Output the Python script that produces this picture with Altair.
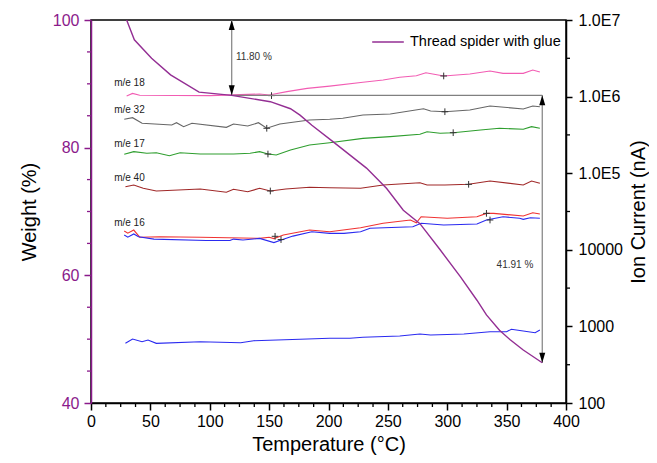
import altair as alt
import pandas as pd

# ---------------- data ----------------
tga_T = [30, 36.5, 51, 67, 91, 118.5, 151, 168, 176, 186, 204, 232, 249, 263, 277, 294, 311, 325, 333, 344, 353, 364, 380]
tga_W = [100, 96.9, 94.0, 91.4, 88.7, 88.2, 87.2, 86.1, 85.1, 83.5, 80.9, 76.8, 73.6, 70.2, 68.1, 64.0, 59.8, 56.1, 53.8, 51.4, 49.9, 48.3, 46.3]

pink_T = [30, 35, 41, 100, 142, 150, 165, 182, 201, 229, 246, 260, 274, 282, 297, 319, 336, 347, 364, 372, 378]
pink_I = [1.02e6, 1.10e6, 1.04e6, 1.03e6, 1.08e6, 1.05e6, 1.16e6, 1.28e6, 1.37e6, 1.54e6, 1.65e6, 1.79e6, 1.87e6, 2.05e6, 1.86e6, 1.97e6, 2.16e6, 2.01e6, 2.01e6, 2.22e6, 2.09e6]

gray_T = [28, 35, 43, 68, 72, 78, 85, 114, 120, 132, 141, 148, 159, 184, 201, 212, 229, 252, 280, 286, 298, 319, 336, 364, 372, 378]
gray_I = [5.06e5, 5.31e5, 4.48e5, 4.26e5, 4.56e5, 4.05e5, 4.48e5, 3.97e5, 4.38e5, 4.13e5, 4.56e5, 3.86e5, 4.38e5, 4.96e5, 5.06e5, 5.21e5, 5.75e5, 5.93e5, 6.95e5, 6.49e5, 6.35e5, 6.68e5, 7.53e5, 6.89e5, 7.53e5, 7.38e5]

green_T = [28, 36, 47, 55, 66, 75, 92, 120, 134, 142, 149, 156, 168, 184, 201, 229, 252, 277, 283, 294, 305, 328, 344, 364, 371, 378]
green_I = [1.77e5, 1.91e5, 1.82e5, 1.85e5, 1.69e5, 1.85e5, 1.78e5, 1.78e5, 1.82e5, 1.91e5, 1.78e5, 1.73e5, 2.01e5, 2.33e5, 2.50e5, 2.85e5, 3.00e5, 3.22e5, 3.48e5, 3.32e5, 3.38e5, 3.66e5, 3.86e5, 3.74e5, 4.05e5, 3.86e5]

brown_T = [29, 36, 44, 55, 92, 114, 120, 132, 142, 151, 164, 184, 201, 227, 246, 277, 283, 298, 318, 336, 364, 371, 378]
brown_I = [6.67e4, 7.02e4, 6.35e4, 5.86e4, 6.22e4, 5.64e4, 6.17e4, 5.73e4, 6.35e4, 5.86e4, 6.22e4, 6.55e4, 6.47e4, 6.35e4, 7.02e4, 7.52e4, 7.02e4, 7.02e4, 7.16e4, 7.91e4, 7.02e4, 7.91e4, 7.38e4]

red_T = [28, 31, 36, 41, 58, 92, 142, 150, 154, 162, 184, 201, 227, 246, 269, 274, 278, 300, 325, 333, 339, 364, 372, 378]
red_I = [1.76e4, 1.65e4, 1.81e4, 1.46e4, 1.48e4, 1.46e4, 1.41e4, 1.46e4, 1.40e4, 1.56e4, 1.81e4, 1.72e4, 1.94e4, 2.22e4, 2.45e4, 2.25e4, 2.70e4, 2.58e4, 2.70e4, 2.99e4, 2.99e4, 2.76e4, 3.05e4, 2.93e4]

blue_T = [28, 31, 36, 40, 53, 97, 117, 120, 128, 142, 154, 162, 170, 186, 201, 213, 227, 235, 271, 278, 297, 325, 333, 347, 361, 364, 370, 378]
blue_I = [1.56e4, 1.46e4, 1.61e4, 1.48e4, 1.38e4, 1.32e4, 1.32e4, 1.38e4, 1.34e4, 1.41e4, 1.24e4, 1.37e4, 1.51e4, 1.72e4, 1.64e4, 1.64e4, 1.72e4, 1.91e4, 2.00e4, 2.22e4, 2.11e4, 2.17e4, 2.45e4, 2.70e4, 2.58e4, 2.50e4, 2.62e4, 2.58e4]

blue2_T = [29, 35, 43, 48, 55, 92, 126, 137, 176, 201, 218, 229, 260, 277, 286, 314, 336, 350, 354, 364, 374, 378]
blue2_I = [601, 685, 631, 664, 601, 631, 613, 650, 679, 699, 699, 721, 750, 796, 773, 796, 853, 853, 917, 871, 828, 897]

marker_T = [152, 297, 148, 298, 149, 305, 151, 318, 155, 160, 333, 336]
marker_I = [1.03e6, 1.86e6, 3.86e5, 6.35e5, 1.78e5, 3.38e5, 5.86e4, 7.16e4, 1.50e4, 1.36e4, 2.99e4, 2.45e4]

label_text = ["m/e 18", "m/e 32", "m/e 17", "m/e 40", "m/e 16"]
label_T = [19.5, 19.5, 19.5, 19.5, 19.5]
label_I = [1.49e6, 6.68e5, 2.40e5, 8.65e4, 2.24e4]

step_T = [118.5, 380]
step_W = [100, 88.2, 46.29]
step_text = ["11.80 %", "41.91 %"]
step_text_T = [122, 357]
step_text_W = [94.2, 61.6]

x_ticks = [0, 50, 100, 150, 200, 250, 300, 350, 400]
x_minor = [12.5, 25, 37.5, 62.5, 75, 87.5, 112.5, 125, 137.5, 162.5, 175, 187.5, 212.5, 225, 237.5,
           262.5, 275, 287.5, 312.5, 325, 337.5, 362.5, 375, 387.5]
w_ticks = [40, 60, 80, 100]
w_minor = [45, 50, 55, 65, 70, 75, 85, 90, 95]
i_ticks = [100, 1000, 1e4, 1e5, 1e6, 1e7]
i_minor = [316, 3162, 31623, 316228, 3162278]

LEGEND = "Thread spider with glue"

# ---------------- style ----------------
W, H = 475, 383
FONT = "Liberation Sans"
PURPLE_AX = "#8B1A8B"
PURPLE_LN = "#932E93"

x_scale = alt.Scale(domain=[0, 400], nice=False, zero=False)
x_axis = alt.Axis(values=x_ticks, title="Temperature (°C)", grid=False,
                  labelFontSize=16, titleFontSize=20, titleFontWeight="normal",
                  labelFont=FONT, titleFont=FONT, labelColor="black", titleColor="black",
                  domainColor="black", tickColor="black", domainWidth=1.5, tickWidth=1.5,
                  tickSize=7, labelPadding=3, labelFlush=False,
                  titleY=47, titleBaseline="alphabetic")

w_scale = alt.Scale(domain=[40, 100], nice=False, zero=False)
w_axis = alt.Axis(orient="left", values=w_ticks, title="Weight (%)", grid=False,
                  labelFontSize=16, titleFontSize=20, titleFontWeight="normal",
                  labelFont=FONT, titleFont=FONT, labelColor=PURPLE_AX, titleColor="black",
                  domainColor=PURPLE_AX, tickColor=PURPLE_AX, domainWidth=1.5, tickWidth=1.5,
                  tickSize=7, labelPadding=5, titlePadding=13, labelFlush=False)

i_scale = alt.Scale(type="log", domain=[100, 1e7], nice=False)
i_axis = alt.Axis(orient="right", values=i_ticks, title="Ion Current (nA)", grid=False,
                  labelExpr="datum.value >= 100000 ? '1.0E' + round(log(datum.value) / LN10) : format(datum.value, 'd')",
                  labelFontSize=16, titleFontSize=20, titleFontWeight="normal",
                  labelFont=FONT, titleFont=FONT, labelColor="black", titleColor="black",
                  domainColor="black", tickColor="black", domainWidth=1.5, tickWidth=1.5,
                  tickSize=6, labelPadding=6, labelFlush=False,
                  titleAngle=270, titleBaseline="top", titleAlign="center",
                  titleX=62, titleY=H / 2)


def X(f):
    return alt.X(f, type="quantitative", scale=x_scale, axis=x_axis)


def YW(f):
    return alt.Y(f, type="quantitative", scale=w_scale, axis=w_axis)


def YI(f):
    return alt.Y(f, type="quantitative", scale=i_scale, axis=i_axis)


# ---------------- weight layer ----------------
tga_df = pd.DataFrame({"T": tga_T, "W": tga_W, "series": LEGEND})
tga = alt.Chart(tga_df).mark_line(strokeWidth=1.4).encode(
    x=X("T"), y=YW("W"),
    color=alt.Color("series:N", scale=alt.Scale(domain=[LEGEND], range=[PURPLE_LN]),
                    legend=alt.Legend(orient="top-right", title=None, symbolType="stroke",
                                      symbolSize=1000, symbolStrokeWidth=1.5, labelFontSize=14.5,
                                      labelFont=FONT, labelColor="black", offset=5, padding=0,
                                      labelOffset=5)))

seg_df = pd.DataFrame({"T": [step_T[0], step_T[0], step_T[1]],
                       "T2": [step_T[0], step_T[1], step_T[1]],
                       "W": [step_W[0], step_W[1], step_W[1]],
                       "W2": [step_W[1], step_W[1], step_W[2]]})
segs = alt.Chart(seg_df).mark_rule(color="#808080", strokeWidth=1.2).encode(
    x=X("T"), x2="T2", y=YW("W"), y2="W2")

up_df = pd.DataFrame({"T": [step_T[0], step_T[1]], "W": [step_W[0], step_W[1]]})
down_df = pd.DataFrame({"T": [step_T[0], step_T[1]], "W": [step_W[1], step_W[2]]})
heads_up = alt.Chart(up_df).mark_point(shape="M0,-1L-0.6,1L0.6,1Z", filled=True, color="black",
                                       opacity=1, size=100, yOffset=5).encode(x=X("T"), y=YW("W"))
heads_down = alt.Chart(down_df).mark_point(shape="M0,1L-0.6,-1L0.6,-1Z", filled=True, color="black",
                                           opacity=1, size=100, yOffset=-5).encode(x=X("T"), y=YW("W"))

st_df = pd.DataFrame({"T": step_text_T, "W": step_text_W, "txt": step_text})
st_left = alt.Chart(st_df.iloc[[0]]).mark_text(align="left", baseline="middle", fontSize=10,
                                               font=FONT, color="#333333").encode(x=X("T"), y=YW("W"), text="txt:N")
st_right = alt.Chart(st_df.iloc[[1]]).mark_text(align="center", baseline="middle", fontSize=10,
                                                font=FONT, color="#333333").encode(x=X("T"), y=YW("W"), text="txt:N")

xm = alt.Chart(pd.DataFrame({"T": x_minor})).mark_rule(color="black", strokeWidth=1.3).encode(
    x=X("T"), y=alt.value(H), y2=alt.value(H + 4))
wm = alt.Chart(pd.DataFrame({"W": w_minor})).mark_rule(color=PURPLE_AX, strokeWidth=1.3).encode(
    y=YW("W"), x=alt.value(-4), x2=alt.value(0))

left = alt.layer(segs, tga, heads_up, heads_down, st_left, st_right, xm, wm)

# ---------------- ion current layer ----------------
series = [
    (pink_T, pink_I, "#F25CB3"),
    (gray_T, gray_I, "#666666"),
    (green_T, green_I, "#2E9E2E"),
    (brown_T, brown_I, "#A02828"),
    (red_T, red_I, "#F03232"),
    (blue_T, blue_I, "#2A2AF0"),
    (blue2_T, blue2_I, "#2A2AF0"),
]
ion_layers = []
for t, v, c in series:
    ion_layers.append(alt.Chart(pd.DataFrame({"T": t, "I": v})).mark_line(color=c, strokeWidth=1.1).encode(
        x=X("T"), y=YI("I")))

markers = alt.Chart(pd.DataFrame({"T": marker_T, "I": marker_I})).mark_point(
    shape="M-1,0L1,0M0,-1L0,1", filled=False, color="#333333", strokeWidth=1, size=45, opacity=1).encode(
    x=X("T"), y=YI("I"))

labels = alt.Chart(pd.DataFrame({"T": label_T, "I": label_I, "txt": label_text})).mark_text(
    align="left", baseline="middle", fontSize=10, font=FONT, color="#222222").encode(
    x=X("T"), y=YI("I"), text="txt:N")

im = alt.Chart(pd.DataFrame({"I": i_minor})).mark_rule(color="black", strokeWidth=1.3).encode(
    y=YI("I"), x=alt.value(W), x2=alt.value(W + 4))

right = alt.layer(*ion_layers, markers, labels, im)

chart = alt.layer(right, left).resolve_scale(y="independent").properties(
    width=W, height=H,
    padding={"left": 83, "top": 12, "right": 83, "bottom": 52},
    autosize=alt.AutoSizeParams(type="none"),
).configure(font=FONT).configure_view(stroke="black", strokeWidth=1.5)

chart.save("out.html", embed_options={"renderer": "svg", "actions": False})
